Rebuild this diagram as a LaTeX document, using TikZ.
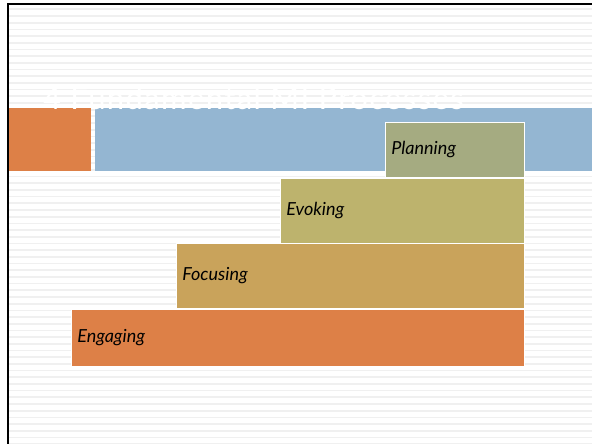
\documentclass[tikz,border=0pt]{standalone}
\usepackage{fontspec}
\setmainfont{Lato}
\definecolor{hdrorange}{HTML}{DD8047}
\definecolor{hdrblue}{HTML}{94B6D2}
\definecolor{planfill}{HTML}{A5AB81}
\definecolor{evokfill}{HTML}{BDB36D}
\definecolor{focufill}{HTML}{C9A35B}
\definecolor{engafill}{HTML}{DD8047}
\begin{document}
\begin{tikzpicture}[x=1pt,y=-1pt,stage/.style={draw=white,line width=0.8pt,anchor=north west,inner xsep=6pt,inner ysep=0pt,align=left,font=\fontsize{18}{18}\selectfont\itshape}]
  \useasboundingbox (0,0) rectangle (592,444);
  \foreach \k in {0,...,65} \fill[black!6] (9,8.45+6.69*\k) rectangle (592,10.15+6.69*\k);
  \draw[line width=2pt] (8.2,444) -- (8.2,4.5) -- (592,4.5);
  \fill[hdrorange] (9.2,108) rectangle (91,171);
  \fill[hdrblue] (95,108) rectangle (592,171);
  \node[anchor=base west,inner sep=0pt,text=white,font=\fontsize{31}{31}\selectfont\addfontfeature{LetterSpace=4.5}] (title) at (43,110) {4 Fundamental MI Processes};
  \node[stage,fill=planfill,minimum height=55pt,text width=127pt] (plan) at (385,122) {Planning};
  \node[stage,fill=evokfill,minimum height=65pt,text width=232pt] (evok) at (280,178) {Evoking};
  \node[stage,fill=focufill,minimum height=65pt,text width=336pt] (focu) at (176,243) {Focusing};
  \node[stage,fill=engafill,minimum height=57pt,text width=441pt] (enga) at (71,309) {Engaging};
\end{tikzpicture}
\end{document}
